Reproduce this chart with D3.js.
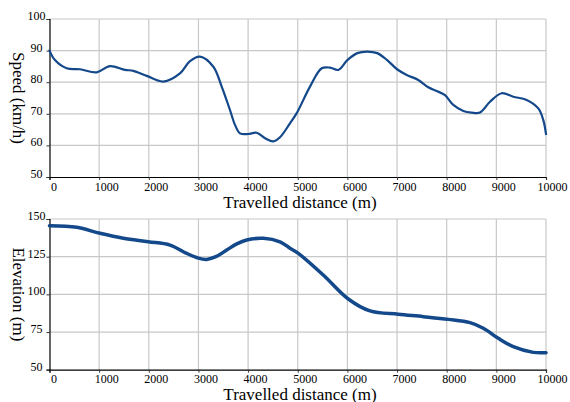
<!DOCTYPE html>
<html><head><meta charset="utf-8">
<script src="https://cdn.jsdelivr.net/npm/d3@7"></script>
<style>
body{margin:0;background:#fff;}
text{font-family:"Liberation Serif","Times New Roman",serif;fill:#000;}
</style></head>
<body><svg id="c" width="570" height="402"></svg>
<script>
const distanceTicks = [0,1000,2000,3000,4000,5000,6000,7000,8000,9000,10000];
const speedTicks = [50,60,70,80,90,100];
const elevationTicks = [50,75,100,125,150];

const speedDist = [0,110,346,614,950,1218,1520,1688,1957,2292,2628,2830,3031,3300,3468,3635,3736,3837,4000,4172,4350,4508,4643,4844,4979,5247,5483,5650,5817,6000,6200,6400,6600,6800,7000,7195,7428,7630,7800,7966,8133,8335,8500,8671,8872,9107,9341,9610,9845,9946,10000];
const speedVal  = [90,87,84.4,84.1,83.1,85.1,83.9,83.6,82,80.2,82.8,86.7,88.1,84.9,78.6,71.2,66.5,63.8,63.6,64,62.2,61.3,62.6,67,70.2,78.6,84.4,84.6,83.9,87,89.2,89.7,89.2,87,84.1,82.3,80.7,78.4,77.2,75.9,72.8,70.9,70.4,70.4,73.8,76.5,75.4,74.4,71.7,68,63.6];

const elevDist = [0,548,1017,1487,1990,2427,2763,3000,3166,3350,3569,3772,3972,4306,4642,4844,5011,5514,6018,6455,7025,7529,8033,8469,8738,9040,9341,9744,10000];
const elevVal  = [145.6,144.5,140.5,137.2,134.9,132.7,127.2,124,123.2,125,129.4,133.5,136.1,137.2,134.9,130.6,127.2,112.8,96.9,89,86.8,85.2,83.4,81.2,77.5,70.8,65.3,61.5,61.3];

const svg = d3.select("#c");
const X0 = 49.5, X1 = 546;
const x = d3.scaleLinear().domain([0,10000]).range([X0,X1]);
const lineColor = "#13488a";

function panel(opts){
  const y = d3.scaleLinear().domain(opts.domain).range([opts.bottom, opts.top]);
  const g = svg.append("g");
  g.selectAll(".vg").data(distanceTicks.slice(1)).join("line")
    .attr("x1",d=>x(d)).attr("x2",d=>x(d)).attr("y1",opts.top).attr("y2",opts.bottom)
    .attr("stroke","#c8c8c8").attr("stroke-width",1.2);
  g.selectAll(".hg").data(opts.ticks.slice(1)).join("line")
    .attr("x1",X0).attr("x2",X1).attr("y1",d=>y(d)).attr("y2",d=>y(d))
    .attr("stroke","#c8c8c8").attr("stroke-width",1.2);
  const xa = d3.axisBottom(x).tickValues(distanceTicks).tickSize(3).tickFormat(d3.format("d"));
  const xg = g.append("g").attr("transform",`translate(0,${opts.bottom})`).call(xa);
  xg.attr("font-family",null);
  xg.select(".domain").attr("stroke","#000").attr("stroke-width",1.2);
  xg.selectAll(".tick line").attr("stroke","#333");
  xg.selectAll(".tick text").attr("font-size",12)
    .attr("y", opts.xLabelDy).attr("dy",0)
    .attr("dx",d=> d===0 ? 4 : (d===10000 ? 6 : 7));
  const ya = d3.axisLeft(y).tickValues(opts.ticks).tickSize(3).tickFormat(d3.format("d"));
  const yg = g.append("g").attr("transform",`translate(${X0},0)`).call(ya);
  yg.attr("font-family",null);
  yg.select(".domain").attr("stroke","#000").attr("stroke-width",1.2);
  yg.selectAll(".tick line").attr("stroke","#333");
  yg.selectAll(".tick text").attr("font-size",12)
    .attr("text-anchor","middle").attr("x",36.5-X0).attr("dy",0).attr("y",0.5);
  const data = opts.xs.map((d,i)=>[d,opts.ys[i]]);
  g.append("path").datum(data)
    .attr("fill","none").attr("stroke",lineColor).attr("stroke-width",opts.lw)
    .attr("stroke-linejoin","round").attr("stroke-linecap","round")
    .attr("d", d3.line().x(d=>x(d[0])).y(d=>y(d[1])).curve(d3.curveCatmullRom.alpha(0.5)));
  g.append("text").attr("x",300).attr("y",opts.xTitleY).attr("text-anchor","middle")
    .attr("font-size",17).text("Travelled distance (m)");
  g.append("text").attr("transform",`translate(${opts.yTitleX},${(opts.top+opts.bottom)/2}) rotate(90)`)
    .attr("text-anchor","middle").attr("font-size",17).text(opts.yTitle);
}

panel({domain:[50,100], ticks:speedTicks, top:19, bottom:177, xs:speedDist, ys:speedVal, lw:2.2,
  xLabelDy:14, xTitleY:208, yTitleX:13, yTitle:"Speed (km/h)"});
panel({domain:[50,150], ticks:elevationTicks, top:219, bottom:369.7, xs:elevDist, ys:elevVal, lw:3.5,
  xLabelDy:13, xTitleY:399.5, yTitleX:13, yTitle:"Elevation (m)"});
</script></body></html>
